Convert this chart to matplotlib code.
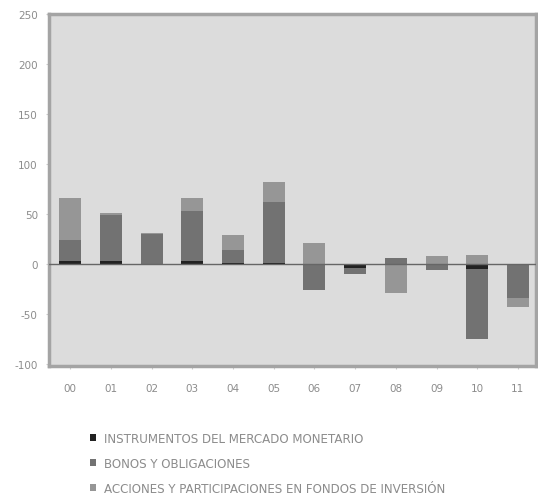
import matplotlib.pyplot as plt
import numpy as np
from matplotlib.patches import Patch

years = ["00", "01", "02", "03", "04", "05", "06", "07", "08", "09", "10", "11"]
instrumentos = [3, 3, 0, 3, 1, 1, 0, -4, 0, 0, -5, 0]
bonos = [21, 46, 30, 50, 13, 61, -26, -6, 6, -6, -70, -34]
acciones = [42, 2, 1, 13, 15, 20, 21, 0, -29, 8, 9, -9]

labels = ["INSTRUMENTOS DEL MERCADO MONETARIO",
          "BONOS Y OBLIGACIONES",
          "ACCIONES Y PARTICIPACIONES EN FONDOS DE INVERSIÓN"]
colors = ["#222222", "#727272", "#969696"]
text_c = "#8c8c8c"

plt.rcParams["axes.unicode_minus"] = False

fig = plt.figure(figsize=(5.38, 5.02), dpi=100)
ax = fig.add_axes([0.091, 0.269, 0.905, 0.701])
ax.set_facecolor("#dcdcdc")

x = np.arange(len(years))
w = 0.54

# stack positives upward and negatives downward
pos_base = np.zeros(len(years))
neg_base = np.zeros(len(years))
for series, c in zip([instrumentos, bonos, acciones], colors):
    v = np.array(series, dtype=float)
    base = np.where(v >= 0, pos_base, neg_base)
    ax.bar(x, v, w, bottom=base, color=c, edgecolor="none", zorder=2)
    pos_base += np.where(v >= 0, v, 0)
    neg_base += np.where(v < 0, v, 0)

ax.axhline(0, color="#666666", lw=1.0, zorder=3)

ax.set_xlim(-0.52, 11.44)
ax.set_ylim(-102, 250)
ax.set_yticks(np.arange(-100, 251, 50))
ax.set_xticks(x)
ax.set_xticklabels(years)
ax.tick_params(axis="both", length=2, color="#cccccc", labelsize=7.5,
               labelcolor=text_c, pad=6)
ax.tick_params(axis="x", pad=10)
for s in ax.spines.values():
    s.set_color("#a4a4a4")
    s.set_linewidth(2.5)

handles = [Patch(facecolor=c, edgecolor="none") for c in colors]
fig.legend(handles, labels, loc="upper left", bbox_to_anchor=(0.158, 0.147),
           frameon=False, fontsize=8.6, labelcolor=text_c,
           handlelength=0.55, handleheight=0.55, handletextpad=0.6,
           labelspacing=1.0, borderaxespad=0)

fig.savefig("out.png", dpi=100, facecolor="white")
